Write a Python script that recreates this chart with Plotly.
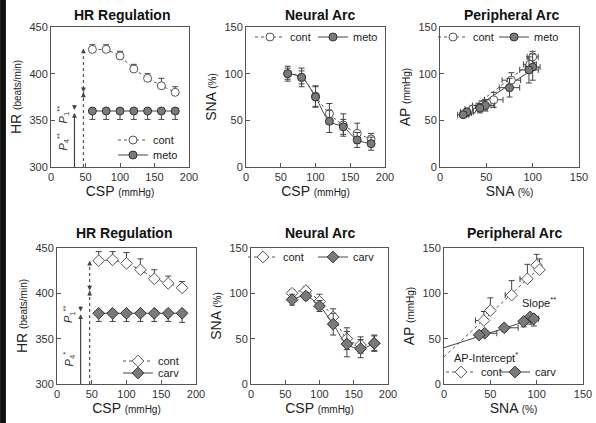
import plotly.graph_objects as go

# ---------------- data ----------------
csp = [60, 80, 100, 120, 140, 160, 180]

# top row (metoprolol)
hr_cont_top = [426, 426, 419, 405, 395, 387, 380]
hr_cont_top_err = [5, 5, 5, 5, 5, 8, 6]
hr_meto = [360, 360, 360, 360, 360, 360, 360]
hr_meto_err = [9, 9, 9, 9, 9, 9, 9]

sna_cont_top = [100, 96, 76, 57, 45, 36, 30]
sna_cont_top_err = [6, 7, 11, 11, 12, 11, 6]
sna_meto = [100, 96, 75, 49, 43, 29, 25]
sna_meto_err = [8, 10, 11, 12, 8, 8, 7]

pa_cont_top_sna = [100, 97, 77, 58, 45, 35, 29]
pa_cont_top_ap = [118, 110, 93, 72, 66, 62, 58]
pa_cont_top_ap_err = [6, 6, 8, 8, 5, 4, 3]
pa_cont_top_sna_err = [6, 7, 10, 10, 10, 8, 5]
pa_meto_sna = [100, 96, 75, 49, 43, 29, 25]
pa_meto_ap = [107, 104, 85, 66, 63, 59, 56]
pa_meto_ap_err = [14, 14, 10, 6, 5, 4, 3]
pa_meto_sna_err = [8, 10, 11, 10, 8, 7, 6]
fit_cont_top_x = [25, 100]
fit_cont_top_y = [56, 113]
fit_meto_x = [25, 105]
fit_meto_y = [55, 108]

# bottom row (carvedilol)
hr_cont_bot = [436, 437, 433, 426, 416, 411, 406]
hr_cont_bot_err = [10, 9, 12, 12, 10, 8, 7]
hr_carv = [378, 378, 378, 378, 378, 378, 378]
hr_carv_err = [9, 9, 9, 9, 9, 9, 10]

sna_cont_bot = [100, 103, 91, 74, 50, 43, 45]
sna_cont_bot_err = [4, 4, 8, 9, 12, 9, 8]
sna_carv = [93, 97, 86, 66, 44, 39, 45]
sna_carv_err = [6, 4, 6, 12, 14, 10, 9]

pa_cont_bot_sna = [100, 103, 90, 73, 50, 43]
pa_cont_bot_ap = [131, 126, 116, 98, 81, 70]
pa_cont_bot_ap_err = [12, 12, 16, 16, 14, 10]
pa_cont_bot_sna_err = [3, 3, 8, 7, 4, 9]
pa_carv_sna = [93, 97, 86, 65, 44, 38]
pa_carv_ap = [74, 72, 69, 62, 56, 54]
pa_carv_ap_err = [8, 8, 6, 4, 3, 3]
pa_carv_sna_err = [5, 5, 8, 15, 13, 5]
fit_cont_bot_x = [0, 104]
fit_cont_bot_y = [30, 129]
fit_carv_x = [0, 100]
fit_carv_y = [40, 73]

# arrows in HR panels
p4_x = 34
p1_x = 47
top_p4_top = 358
top_p1_top = 427
top_p1_mark = 380
bot_p4_top = 377
bot_p1_top = 436
bot_p1_mark = 403

# ---------------- style ----------------
FONT = "Arial, Liberation Sans, sans-serif"
DARK = "#444444"
OPEN_LINE = "#555555"
GRAY_FILL = "#7a7a7a"
W, H = 596, 423

fig = go.Figure()

def err(arr, up=True, down=True, w=3):
    zeros = [0] * len(arr)
    return dict(type="data", symmetric=False,
                array=arr if up else zeros,
                arrayminus=arr if down else zeros,
                color=DARK, thickness=1, width=w)

def style(symbol, filled, dash, shape="linear"):
    line = dict(color=OPEN_LINE if not filled else DARK, width=1, dash=dash, shape=shape)
    marker = dict(symbol=symbol, size=8 if symbol == "circle" else 9,
                  color="white" if not filled else GRAY_FILL,
                  line=dict(color=OPEN_LINE if not filled else "#333333", width=1))
    return line, marker

def add(x, y, xa, ya, name, legend, symbol, filled, dash, ey=None, ex=None,
        shape="linear", mode="lines+markers"):
    line, marker = style(symbol, filled, dash, shape)
    fig.add_trace(go.Scatter(
        x=x, y=y, xaxis=xa, yaxis=ya, name=name, legend=legend,
        mode=mode, showlegend=(mode == "lines+markers"),
        line=line, marker=marker, error_y=ey, error_x=ex,
    ))
    if mode != "lines+markers":
        # legend-only glyph (line + marker)
        fig.add_trace(go.Scatter(x=[None], y=[None], xaxis=xa, yaxis=ya, name=name,
                                 legend=legend, mode="lines+markers",
                                 line=line, marker=marker, showlegend=True))

# Panel 1: HR regulation (meto)
add(csp, hr_cont_top, "x", "y", "cont", "legend", "circle", False, "dot",
    ey=err(hr_cont_top_err, True, False))
add(csp, hr_meto, "x", "y", "meto", "legend7", "circle", True, "solid",
    ey=err(hr_meto_err, False, True))

# Panel 2: Neural arc (meto)
add(csp, sna_cont_top, "x2", "y2", "cont", "legend2", "circle", False, "dot",
    ey=err(sna_cont_top_err), shape="spline")
add(csp, sna_meto, "x2", "y2", "meto", "legend8", "circle", True, "solid",
    ey=err(sna_meto_err), shape="spline")

# Panel 3: Peripheral arc (meto)
fig.add_trace(go.Scatter(x=fit_cont_top_x, y=fit_cont_top_y, xaxis="x3", yaxis="y3",
                         mode="lines", showlegend=False,
                         line=dict(color=OPEN_LINE, width=1, dash="dot")))
fig.add_trace(go.Scatter(x=fit_meto_x, y=fit_meto_y, xaxis="x3", yaxis="y3",
                         mode="lines", showlegend=False,
                         line=dict(color=DARK, width=1)))
add(pa_cont_top_sna, pa_cont_top_ap, "x3", "y3", "cont", "legend3", "circle", False,
    "dot", ey=err(pa_cont_top_ap_err), ex=err(pa_cont_top_sna_err), mode="markers")
add(pa_meto_sna, pa_meto_ap, "x3", "y3", "meto", "legend9", "circle", True,
    "solid", ey=err(pa_meto_ap_err), ex=err(pa_meto_sna_err), mode="markers")

# Panel 4: HR regulation (carv)
add(csp, hr_cont_bot, "x4", "y4", "cont", "legend4", "diamond", False, "dot",
    ey=err(hr_cont_bot_err, True, False))
add(csp, hr_carv, "x4", "y4", "carv", "legend10", "diamond", True, "solid",
    ey=err(hr_carv_err, False, True))

# Panel 5: Neural arc (carv)
add(csp, sna_cont_bot, "x5", "y5", "cont", "legend5", "diamond", False, "dot",
    ey=err(sna_cont_bot_err), shape="spline")
add(csp, sna_carv, "x5", "y5", "carv", "legend11", "diamond", True, "solid",
    ey=err(sna_carv_err), shape="spline")

# Panel 6: Peripheral arc (carv)
fig.add_trace(go.Scatter(x=fit_cont_bot_x, y=fit_cont_bot_y, xaxis="x6", yaxis="y6",
                         mode="lines", showlegend=False,
                         line=dict(color=OPEN_LINE, width=1, dash="dot")))
fig.add_trace(go.Scatter(x=fit_carv_x, y=fit_carv_y, xaxis="x6", yaxis="y6",
                         mode="lines", showlegend=False,
                         line=dict(color=DARK, width=1)))
add(pa_cont_bot_sna, pa_cont_bot_ap, "x6", "y6", "cont", "legend6", "diamond", False,
    "dot", ey=err(pa_cont_bot_ap_err, True, False),
    ex=err(pa_cont_bot_sna_err, False, True), mode="markers")
add(pa_carv_sna, pa_carv_ap, "x6", "y6", "carv", "legend12", "diamond", True,
    "solid", ey=err(pa_carv_ap_err, False, True),
    ex=err(pa_carv_sna_err, True, False), mode="markers")

# HR panel vertical lines (P4 solid, P1 dotted)
for xa, ya, p4top, p1top in (("x", "y", top_p4_top, top_p1_top),
                             ("x4", "y4", bot_p4_top, bot_p1_top)):
    fig.add_trace(go.Scatter(x=[p4_x, p4_x], y=[300, p4top - 3], xaxis=xa, yaxis=ya,
                             mode="lines", showlegend=False,
                             line=dict(color=DARK, width=1.2)))
    fig.add_trace(go.Scatter(x=[p1_x, p1_x], y=[300, p1top - 3], xaxis=xa, yaxis=ya,
                             mode="lines", showlegend=False,
                             line=dict(color=OPEN_LINE, width=1.2, dash="dot")))

annotations = []

def arrow(xr, yr, x, y, ax, ay):
    annotations.append(dict(x=x, y=y, ax=ax, ay=ay, xref=xr, yref=yr,
                            axref=xr, ayref=yr, showarrow=True, text="",
                            arrowhead=2, arrowsize=0.8, arrowwidth=1.2,
                            arrowcolor=DARK))

for xr, yr, p4top, p1top, mark in (("x", "y", top_p4_top, top_p1_top, top_p1_mark),
                                   ("x4", "y4", bot_p4_top, bot_p1_top, bot_p1_mark)):
    arrow(xr, yr, p4_x, p4top, p4_x, p4top - 6)
    arrow(xr, yr, p1_x, p1top, p1_x, p1top - 6)
    arrow(xr, yr, p1_x, mark, p1_x, mark + 7)
    arrow(xr, yr, p1_x, mark, p1_x, mark - 7)
    arrow(xr, yr, p4_x, p4top + 3, p4_x, p4top + 10)

# P labels
for xr, yr, y1, y4, s4 in (("x", "y", 356, 327, "**"), ("x4", "y4", 377, 328, "*")):
    annotations.append(dict(x=17, y=y1, xref=xr, yref=yr, showarrow=False,
                            xanchor="center", yanchor="middle",
                            text="<i>P</i><sub>1</sub><sup>**</sup>", textangle=-90,
                            font=dict(size=11, color="#333", family=FONT)))
    annotations.append(dict(x=17, y=y4, xref=xr, yref=yr, showarrow=False,
                            xanchor="center", yanchor="middle",
                            text="<i>P</i><sub>4</sub><sup>" + s4 + "</sup>", textangle=-90,
                            font=dict(size=11, color="#333", family=FONT)))

annotations.append(dict(x=103, y=90, xref="x6", yref="y6", showarrow=False,
                        xanchor="center", yanchor="middle",
                        text="Slope<sup>**</sup>",
                        font=dict(size=11, color="#222", family=FONT)))
annotations.append(dict(x=45, y=30, xref="x6", yref="y6", showarrow=False,
                        xanchor="center", yanchor="middle",
                        text="AP-Intercept<sup>*</sup>",
                        font=dict(size=11, color="#222", family=FONT)))

# Titles
titles = [("HR Regulation", 122, 15), ("Neural Arc", 320, 15), ("Peripheral Arc", 511, 15),
          ("HR Regulation", 124, 233), ("Neural Arc", 320, 233), ("Peripheral Arc", 514, 233)]
for t, px, py in titles:
    annotations.append(dict(x=px / W, y=1 - py / H, xref="paper", yref="paper",
                            xanchor="center", yanchor="middle",
                            showarrow=False, text="<b>" + t + "</b>",
                            font=dict(size=14, color="#111", family=FONT)))

# axis domains (pixels)
xdom = {1: (51, 189), 2: (246, 385), 3: (440, 579),
        4: (57, 196), 5: (251, 388), 6: (444, 583)}
ydom = {1: (27, 167), 2: (27, 167), 3: (27, 167),
        4: (248, 384), 5: (248, 384), 6: (248, 384)}

def xtitle(a, b):
    return "<span style='font-size:14px'>" + a + "</span> <span style='font-size:10px'>" + b + "</span>"

xtitles = {1: xtitle("CSP", "(mmHg)"), 2: xtitle("CSP", "(mmHg)"), 3: xtitle("SNA", "(%)"),
           4: xtitle("CSP", "(mmHg)"), 5: xtitle("CSP", "(mmHg)"), 6: xtitle("SNA", "(%)")}
ytitles = {1: xtitle("HR", "(beats/min)"), 2: xtitle("SNA", "(%)"), 3: xtitle("AP", "(mmHg)"),
           4: xtitle("HR", "(beats/min)"), 5: xtitle("SNA", "(%)"), 6: xtitle("AP", "(mmHg)")}
xranges = {1: [0, 200], 2: [0, 200], 3: [0, 150], 4: [0, 200], 5: [0, 200], 6: [0, 150]}
yranges = {1: [300, 450], 2: [0, 150], 3: [0, 150], 4: [300, 450], 5: [0, 150], 6: [0, 150]}

layout = dict(width=W, height=H, margin=dict(l=0, r=0, t=0, b=0, autoexpand=False),
              paper_bgcolor="white", plot_bgcolor="white",
              font=dict(family=FONT, size=11, color="#333"),
              annotations=annotations, showlegend=True)

for i in range(1, 7):
    sx = "" if i == 1 else str(i)
    x0, x1 = xdom[i]
    y0, y1 = ydom[i]
    layout["xaxis" + sx] = dict(domain=[x0 / W, x1 / W], range=xranges[i],
                                anchor="y" + sx, showgrid=False, zeroline=False,
                                automargin=False,
                                showline=True, linecolor="#555", linewidth=1, mirror=True,
                                ticks="inside", ticklen=4, tickcolor="#555",
                                dtick=50, tickfont=dict(size=11, color="#333"),
                                title=dict(text=xtitles[i], standoff=2,
                                           font=dict(size=14, color="#222")))
    layout["yaxis" + sx] = dict(domain=[1 - y1 / H, 1 - y0 / H], range=yranges[i],
                                anchor="x" + sx, showgrid=False, zeroline=False,
                                automargin=False,
                                showline=True, linecolor="#555", linewidth=1, mirror=True,
                                ticks="inside", ticklen=4, tickcolor="#555",
                                dtick=50, tickfont=dict(size=11, color="#333"),
                                title=dict(text=ytitles[i], standoff=4,
                                           font=dict(size=14, color="#222")))

# one legend per entry: (legend id, left px, centre y px)
legend_pos = {"legend": (113, 140), "legend7": (113, 155),
              "legend2": (250, 37), "legend8": (313, 37),
              "legend3": (433, 37), "legend9": (494, 37),
              "legend4": (118, 361), "legend10": (118, 373),
              "legend5": (243, 257), "legend11": (313, 257),
              "legend6": (441, 372), "legend12": (495, 372)}
for lid, (lx, ly) in legend_pos.items():
    layout[lid] = dict(bgcolor="rgba(0,0,0,0)", font=dict(size=11, color="#222", family=FONT),
                       itemwidth=30, tracegroupgap=0, itemclick=False,
                       x=lx / W, y=1 - ly / H, xanchor="left", yanchor="middle")

# dark strip on the left edge of the original picture
layout["shapes"] = [dict(type="rect", xref="paper", yref="paper",
                         x0=0.001, x1=0.009, y0=0, y1=1, fillcolor="#111111",
                         line=dict(width=1, color="#111111"), layer="above")]

fig.update_layout(**layout)
fig.write_html("out.html", config={"displayModeBar": False},
               post_script="document.body.style.margin='0';"
                           "document.body.style.borderLeft='0';")
